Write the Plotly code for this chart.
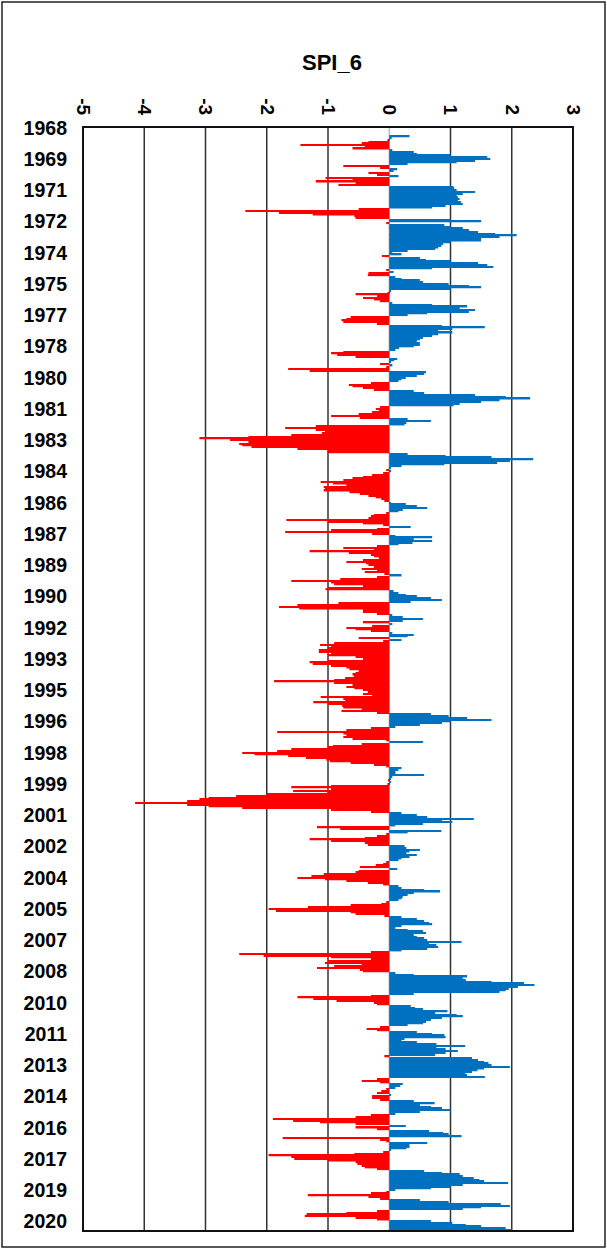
import math
import plotly.graph_objects as go

nan = float("nan")

# Monthly SPI_6 values (Jan..Dec)
spi_1968_1969 = [nan, nan, nan, nan, nan, 0.33, 0.04, -0.03, -0.34, -0.45, -1.45, -0.40,
                 -0.60, 0.05, 0.40, 0.45, 1.00, 1.60, 1.65, 1.40, 1.10, 0.30, -0.75, -0.15]

spi_1970s = [0.13, 0.07, -0.34, -0.20, 0.15, -1.04, -0.60, -1.20, -0.55, -0.83, 1.05, 1.06,
             1.10, 1.40, 1.20, 1.10, 1.12, 1.15, 1.12, 1.17, 1.20, 0.92, 0.70, -0.50,
             -2.35, -1.80, -1.25, -0.57, -0.55, 1.00, 1.50, -0.05, 0.90, 1.00, 1.20, 1.30,
             1.45, 1.73, 2.08, 1.80, 1.50, 1.50, 1.00, 0.88, 0.85, 0.80, 0.75, 0.30,
             0.05, 0.20, -0.12, 0.50, 0.60, 1.00, 1.45, 1.60, 1.70, 0.70, -0.05, 0.07,
             -0.34, -0.35, 0.10, 0.20, 0.50, 0.55, 0.97, 1.30, 1.50, 1.00, 0.03, -0.03,
             -0.55, -0.20, -0.43, -0.25, -0.15, 0.05, 0.70, 1.27, 1.15, 1.40, 1.30, 0.62,
             0.30, -0.63, -0.70, -0.78, -0.75, -0.20, 0.86, 1.56, 1.03, 0.80, 1.03, 0.80,
             0.70, 0.55, 0.50, 0.45, 0.50, 0.50, 0.40, 0.16, 0.10, -0.75, -0.95, -0.85,
             -0.55, 0.13, 0.08, 0.03, -0.15, 0.05, -0.05, -1.65, -1.30, 0.60, 0.57, 0.45]

spi_1980s = [0.27, 0.20, 0.15, -0.30, -0.66, -0.60, -0.43, -0.25, 0.40, 0.57, 1.40, 1.90,
             2.30, 1.80, 1.50, 1.15, 1.05, -0.15, -0.22, -0.17, -0.28, -0.50, -0.95, -0.48,
             0.30, 0.68, 0.28, 0.25, -1.20, -1.70, -1.20, -1.05, -1.10, -1.60, -2.30, -3.10,
             -2.60, -2.30, -2.45, -2.40, -2.25, -1.50, -1.00, -1.00, 0.30, 0.92, 1.67, 2.35,
             1.97, 1.76, 0.90, 0.20, 0.02, -0.05, 0.03, -0.10, -0.28, -0.43, -0.60, -0.75,
             -1.12, -0.92, -0.70, -1.07, -1.05, -1.07, -0.65, -0.48, -0.34, -0.22, -0.13, -0.08,
             0.03, 0.27, 0.45, 0.62, 0.22, 0.15, -0.05, -0.25, -0.30, -0.34, -1.68, -1.00,
             -0.43, -0.10, 0.35, -0.20, -0.95, -1.70, -0.28, 0.10, 0.70, 0.40, 0.70, 0.38,
             0.15, -0.20, -0.75, -0.25, -1.30, -0.66, -0.30, -0.25, -0.17, -0.43, -0.70, -0.38,
             -0.34, -0.25, -0.45, -0.20, -0.40, -0.08, 0.20, -0.20, -0.80, -1.60, -0.95, -0.90]

spi_1990s = [-0.43, -1.00, -1.04, 0.07, 0.15, 0.27, 0.45, 0.68, 0.86, 0.35, -0.83, -1.50,
             -1.80, -1.47, -0.43, -0.43, -0.20, 0.05, 0.22, 0.55, 0.22, -0.43, 0.05, -0.28,
             -0.70, -0.55, -0.30, 0.05, 0.40, 0.30, -0.50, 0.20, -0.10, -0.90, -1.13, -0.95,
             -1.00, -1.15, -1.15, -0.95, -1.00, -0.55, -0.43, -1.00, -1.30, -1.25, -0.95, -0.70,
             -0.65, -0.50, -0.55, -0.60, -0.58, -0.72, -0.90, -1.88, -0.90, -0.60, -0.70, -0.57,
             -0.43, -0.35, -0.43, -0.28, -1.12, -0.75, -0.72, -1.24, -1.00, -0.77, -0.75, -0.45,
             -0.78, -0.20, 0.68, 0.97, 1.27, 1.67, 1.00, 0.86, 0.50, 0.10, -0.30, -0.70,
             -1.83, -0.75, -0.70, -0.75, -0.60, -0.05, 0.55, -0.45, -0.92, -1.00, -1.60, -1.83,
             -2.40, -2.20, -1.65, -1.36, -1.03, -0.97, -0.63, -0.25, -0.05, 0.20, 0.15, 0.10,
             0.10, 0.57, 0.05, 0.02, -0.02, 0.03, -0.03, -0.95, -1.60, -0.95, -1.57, -1.00]

spi_2000s = [-2.00, -2.50, -2.95, -3.10, -3.30, -4.15, -3.30, -2.95, -2.40, -0.95, -0.30, 0.20,
             0.45, 0.62, 1.38, 0.86, 1.03, 0.55, 0.10, -1.18, -0.80, 0.85, 0.30, -0.05,
             -0.20, -0.40, -1.30, -0.95, -0.40, -0.35, 0.25, 0.28, 0.50, 0.33, 0.28, 0.45,
             0.33, 0.20, 0.15, -0.05, -0.10, -0.22, -0.48, 0.13, -0.50, -0.55, -1.07, -1.27,
             -1.50, -1.05, -0.70, -0.35, -0.10, 0.15, 0.20, 0.57, 0.83, 0.40, 0.30, 0.22,
             0.20, 0.15, -0.05, -0.13, -0.63, -1.33, -1.97, -1.85, -0.63, -0.55, -0.08, 0.20,
             0.45, 0.57, 0.65, 0.70, 0.20, 0.10, 0.30, 0.55, 0.60, 0.40, 0.45, 0.57,
             0.62, 1.18, 0.65, 0.77, 0.80, 0.62, 0.20, -0.30, -2.45, -2.05, -0.95, -0.30,
             -1.00, -1.05, -0.45, -0.90, -1.18, -0.48, -0.43, 0.10, 0.40, 1.27, 1.20, 1.25,
             1.67, 2.20, 2.37, 2.10, 1.95, 1.90, 1.80, 0.40, -0.30, -1.50, -1.24, -0.86]

spi_2010s = [-0.25, -0.20, 0.35, 0.42, 0.55, 0.95, 0.75, 1.10, 1.20, 0.86, 0.68, 0.60,
             0.55, 0.30, -0.15, -0.37, -0.20, 0.45, 0.70, 0.90, 0.92, 0.25, 0.20, 0.45,
             0.77, 1.24, 0.77, 0.92, 1.12, 0.92, 0.75, -0.08, 1.35, 1.45, 1.55, 1.62,
             1.67, 1.97, 1.55, 1.44, 1.35, 1.24, 1.27, 1.56, -0.20, -0.45, -0.15, 0.22,
             0.18, 0.10, -0.05, -0.13, -0.20, 0.03, -0.28, -0.28, -0.15, 0.40, 0.74, 0.50,
             0.68, 0.86, 1.00, 0.50, 0.10, -0.30, -0.55, -1.90, -1.57, -1.13, -0.55, 0.27,
             -0.55, -0.20, 0.65, 0.88, 0.97, 1.18, -1.74, -0.15, -0.05, 0.62, 0.33, 0.33,
             0.28, 0.03, -0.10, -0.57, -1.97, -1.60, -1.55, -1.00, -0.55, -0.52, -0.45, -0.40,
             -0.20, 0.57, 0.86, 1.15, 1.20, 1.38, 1.47, 1.55, 1.94, 1.20, 1.00, 0.68,
             0.10, -0.05, -0.30, -1.33, -0.34, -0.15, 0.50, 0.97, 1.82, 1.97, 1.50, 1.20]

spi_2020 = [-0.20, -0.70, -1.35, -1.38, -0.55, -0.20, 0.68, 1.03, 1.25, 1.50, 1.90, 2.00]

year_labels = ["1968", "1969", "1971", "1972", "1974", "1975", "1977", "1978", "1980",
               "1981", "1983", "1984", "1986", "1987", "1989", "1990", "1992", "1993",
               "1995", "1996", "1998", "1999", "2001", "2002", "2004", "2005", "2007",
               "2008", "2010", "2011", "2013", "2014", "2016", "2017", "2019", "2020"]
x_ticks = [-5, -4, -3, -2, -1, 0, 1, 2, 3]

values = spi_1968_1969 + spi_1970s + spi_1980s + spi_1990s + spi_2000s + spi_2010s + spi_2020
months = list(range(len(values)))
colors = ["#FF0000" if (not math.isnan(v) and v < 0) else "#0070C0" for v in values]
label_pos = [months[k * 18] for k in range(len(year_labels))]

W, H = 607, 1249
L, R, T, B = 83, 34, 127, 18
pw, ph = W - L - R, H - T - B

def px_x(p):
    return (p - L) / pw

def px_y(p):
    return (H - B - p) / ph

fig = go.Figure()
fig.add_trace(go.Bar(x=values, y=months, orientation="h",
                     marker=dict(color=colors, line=dict(width=0)),
                     width=0.85, hoverinfo="x+y"))

shapes = []
for v in x_ticks[1:-1]:
    shapes.append(dict(type="line", xref="x", yref="paper", x0=v, x1=v, y0=0, y1=1,
                       layer="below",
                       line=dict(color="#BFBFBF" if v == 0 else "#333333", width=1.5)))
# plot frame
shapes.append(dict(type="rect", xref="paper", yref="paper", x0=0, x1=1, y0=0, y1=1,
                   line=dict(color="#111111", width=2), layer="above"))
# chart outer border
shapes.append(dict(type="rect", xref="paper", yref="paper",
                   x0=px_x(2), x1=px_x(605), y0=px_y(1247), y1=px_y(2),
                   line=dict(color="#222222", width=1.5), layer="above"))

fig.update_layout(
    width=W, height=H,
    margin=dict(l=L, r=R, t=T, b=B, pad=0),
    paper_bgcolor="white", plot_bgcolor="white",
    showlegend=False, bargap=0.15,
    font=dict(family="Liberation Sans", color="#000000"),
    shapes=shapes,
    annotations=[dict(text="<b>SPI_6</b>", xref="paper", yref="paper",
                      x=px_x(332), y=px_y(62), showarrow=False,
                      xanchor="center", yanchor="middle",
                      font=dict(size=22, family="Liberation Sans", color="#000000"))],
    xaxis=dict(range=[-5, 3], side="top", tickmode="array", tickvals=x_ticks,
               ticktext=["<b>%d</b>" % v for v in x_ticks], tickangle=90,
               tickfont=dict(size=19, family="Liberation Sans", color="#000000"),
               showgrid=False, zeroline=False, showline=False, ticks="",
               ticklabelstandoff=8, fixedrange=True),
    yaxis=dict(range=[len(values) - 0.5, -0.5], tickmode="array", tickvals=label_pos,
               ticktext=["<b>%s</b>" % s for s in year_labels],
               tickfont=dict(size=19.5, family="Liberation Sans", color="#000000"),
               showgrid=False, zeroline=False, showline=False, ticks="",
               ticklabelstandoff=15, fixedrange=True),
)

fig.write_html("out.html", config={"displayModeBar": False},
               post_script="document.body.style.margin='0px';document.body.style.overflow='hidden';")
